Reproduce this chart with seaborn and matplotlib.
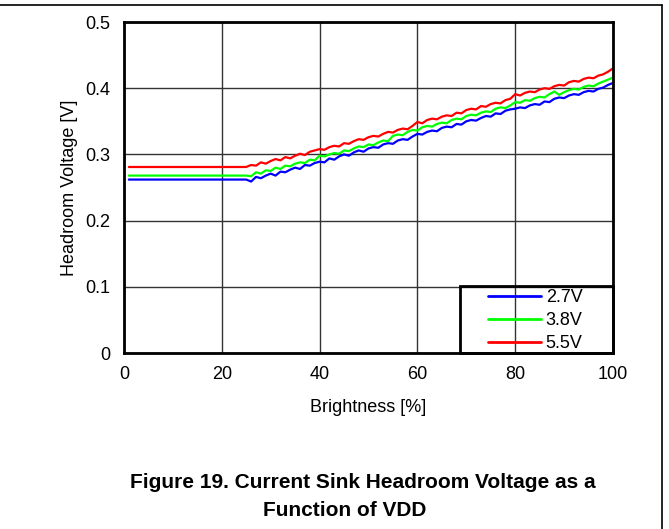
import numpy as np
import pandas as pd
import matplotlib
matplotlib.use("Agg")
import matplotlib.pyplot as plt
from matplotlib.lines import Line2D
from matplotlib.patches import Rectangle
import seaborn as sns

# Brightness sample points [%]
brightness = [1] + list(range(25, 101))

# Headroom voltage [V] per VDD
v_27 = [0.262,
        0.262, 0.259, 0.266, 0.264, 0.268, 0.271, 0.268, 0.274, 0.273, 0.277,
        0.280, 0.278, 0.284, 0.283, 0.287, 0.289, 0.288, 0.294, 0.292, 0.297,
        0.300, 0.298, 0.303, 0.306, 0.304, 0.309, 0.311, 0.310, 0.315, 0.317,
        0.316, 0.321, 0.323, 0.322, 0.327, 0.331, 0.330, 0.334, 0.336, 0.335,
        0.340, 0.342, 0.341, 0.346, 0.345, 0.350, 0.352, 0.351, 0.355, 0.358,
        0.357, 0.362, 0.361, 0.366, 0.368, 0.369, 0.371, 0.370, 0.374, 0.376,
        0.375, 0.380, 0.379, 0.384, 0.386, 0.385, 0.389, 0.391, 0.390, 0.394,
        0.396, 0.395, 0.399, 0.401, 0.405, 0.408]
v_38 = [0.268,
        0.268, 0.267, 0.273, 0.271, 0.276, 0.275, 0.280, 0.278, 0.283, 0.282,
        0.286, 0.288, 0.287, 0.292, 0.291, 0.298, 0.297, 0.300, 0.302, 0.301,
        0.306, 0.305, 0.309, 0.312, 0.311, 0.315, 0.314, 0.318, 0.321, 0.320,
        0.328, 0.330, 0.329, 0.334, 0.337, 0.336, 0.341, 0.343, 0.342, 0.346,
        0.348, 0.347, 0.352, 0.354, 0.353, 0.358, 0.360, 0.359, 0.363, 0.365,
        0.364, 0.369, 0.371, 0.370, 0.374, 0.379, 0.378, 0.382, 0.381, 0.385,
        0.387, 0.386, 0.391, 0.395, 0.390, 0.394, 0.397, 0.399, 0.398, 0.402,
        0.404, 0.403, 0.407, 0.410, 0.413, 0.416]
v_55 = [0.281,
        0.281, 0.284, 0.283, 0.288, 0.286, 0.290, 0.293, 0.291, 0.296, 0.294,
        0.298, 0.301, 0.299, 0.304, 0.306, 0.308, 0.307, 0.311, 0.313, 0.312,
        0.317, 0.316, 0.320, 0.323, 0.322, 0.326, 0.328, 0.327, 0.331, 0.334,
        0.333, 0.337, 0.339, 0.338, 0.343, 0.349, 0.347, 0.352, 0.354, 0.353,
        0.357, 0.359, 0.358, 0.363, 0.362, 0.367, 0.369, 0.368, 0.373, 0.372,
        0.376, 0.378, 0.377, 0.382, 0.384, 0.391, 0.389, 0.393, 0.395, 0.394,
        0.398, 0.400, 0.399, 0.403, 0.405, 0.404, 0.409, 0.411, 0.410, 0.414,
        0.416, 0.415, 0.419, 0.421, 0.425, 0.430]

labels = ["2.7V", "3.8V", "5.5V"]
colors = ["#0000ff", "#00ff00", "#ff0000"]

x_ticks = [0, 20, 40, 60, 80, 100]
y_ticks = [0, 0.1, 0.2, 0.3, 0.4, 0.5]
y_tick_labels = ["0", "0.1", "0.2", "0.3", "0.4", "0.5"]

# long-form table for seaborn
frames = []
for lab, vals in zip(labels, [v_27, v_38, v_55]):
    frames.append(pd.DataFrame({"brightness": brightness, "voltage": vals, "vdd": lab}))
data = pd.concat(frames, ignore_index=True)

sns.set_style("white")
plt.rcParams['font.family'] = ['Liberation Sans', 'DejaVu Sans']
plt.rcParams['text.color'] = 'black'
plt.rcParams['axes.labelcolor'] = 'black'

fig = plt.figure(figsize=(6.69, 5.29), dpi=100)
ax = fig.add_axes([0.1853, 0.3327, 0.7310, 0.6257])

sns.lineplot(data=data, x="brightness", y="voltage", hue="vdd",
             palette=dict(zip(labels, colors)), linewidth=1.6, ax=ax,
             estimator=None, sort=False)

ax.set_xlim(0, 100)
ax.set_ylim(0, 0.5)
ax.set_xticks(x_ticks)
ax.set_yticks(y_ticks)
ax.set_yticklabels(y_tick_labels)
ax.tick_params(length=0, labelsize=13, colors="black")
ax.tick_params(axis="y", pad=10)
ax.tick_params(axis="x", pad=9)
ax.grid(True, color="#333333", linewidth=1)
ax.set_axisbelow(True)
for sp in ax.spines.values():
    sp.set_color("black")
    sp.set_linewidth(2)
    sp.set_visible(True)

ax.set_xlabel("Brightness [%]", fontsize=13, labelpad=12)
ax.set_ylabel("Headroom Voltage [V]", fontsize=13, labelpad=5)

# legend box in lower right corner, content sits right of centre
leg = ax.legend(loc="center", bbox_to_anchor=(0.8415, 0.097), frameon=False,
                fontsize=13, handlelength=2.9, handletextpad=0.28,
                labelspacing=0.33, borderpad=0)
for h in leg.get_lines():
    h.set_linewidth(2)
leg.set_title(None)
ax.add_patch(Rectangle((0.687, 0.0), 0.313, 0.2024, transform=ax.transAxes,
                       fill=False, edgecolor="black", linewidth=2,
                       clip_on=False, zorder=5))

fig.text(363 / 669, 1 - 483 / 529, "Figure 19. Current Sink Headroom Voltage as a",
         ha="center", va="center", fontsize=15, fontweight="bold")
fig.text(345 / 669, 1 - 510 / 529, "Function of VDD",
         ha="center", va="center", fontsize=15, fontweight="bold")

# document frame
fig.add_artist(Line2D([0, 0.9895], [0.9905, 0.9905], color="black", linewidth=1.2,
                      transform=fig.transFigure))
fig.add_artist(Line2D([0.9895, 0.9895], [0, 0.9905], color="black", linewidth=1.2,
                      transform=fig.transFigure))

fig.savefig("out.png", dpi=100)
